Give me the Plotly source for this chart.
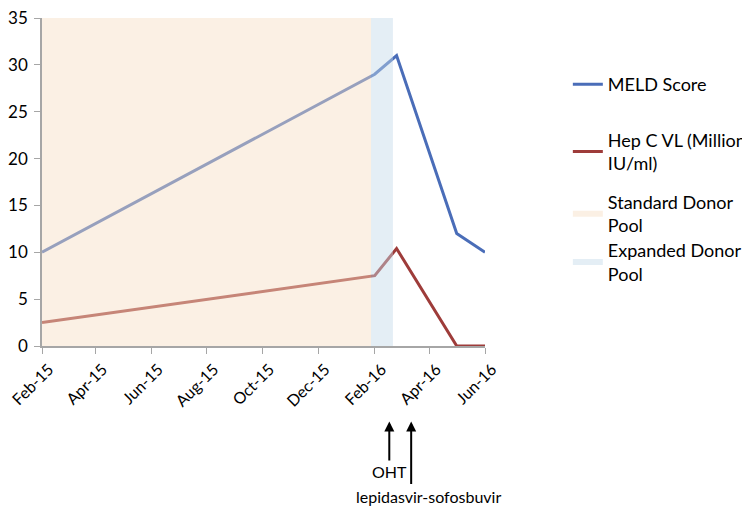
import plotly.graph_objects as go

dates = ["2015-02-01", "2016-02-01", "2016-02-25", "2016-05-01", "2016-06-01"]
meld = [10, 29, 31, 12, 10]
hepc = [2.5, 7.5, 10.4, 0, 0]

standard_pool = ["2015-02-01", "2016-01-28"]
expanded_pool = ["2016-01-28", "2016-02-21"]

events = ["2016-02-17", "2016-03-12"]
event_labels = ["OHT", "lepidasvir-sofosbuvir"]

y_max = 35
font = "Lato, Carlito, 'Open Sans', sans-serif"
fs = 18

fig = go.Figure()
fig.add_trace(go.Scatter(x=dates, y=meld, mode="lines", name="MELD Score",
                         line=dict(color="#4A6DB8", width=3), legend="legend"))
fig.add_trace(go.Scatter(x=dates, y=hepc, mode="lines", name="Hep C VL (Million<br>IU/ml)",
                         line=dict(color="#9E3C3A", width=3), legend="legend2"))
fig.add_trace(go.Scatter(x=[standard_pool[0], standard_pool[1], standard_pool[1], standard_pool[0]],
                         y=[0, 0, y_max, y_max], fill="toself", mode="none",
                         fillcolor="rgba(247,222,195,0.45)", name="Standard Donor<br>Pool",
                         legend="legend3"))
fig.add_trace(go.Scatter(x=[expanded_pool[0], expanded_pool[1], expanded_pool[1], expanded_pool[0]],
                         y=[0, 0, y_max, y_max], fill="toself", mode="none",
                         fillcolor="rgba(195,218,233,0.45)", name="Expanded Donor<br>Pool",
                         legend="legend4"))

# event arrows
fig.add_annotation(x=events[0], y=-0.23, xref="x", yref="paper", text=event_labels[0],
                   showarrow=True, arrowhead=2, arrowsize=1, arrowwidth=2, arrowcolor="black",
                   ax=0, ay=50, font=dict(size=16, color="black", family=font))
fig.add_annotation(x=events[1], y=-0.23, xref="x", yref="paper", text="",
                   showarrow=True, arrowhead=2, arrowsize=1, arrowwidth=2, arrowcolor="black",
                   ax=0, ay=64)
fig.add_annotation(x=events[1], y=-0.493, xref="x", yref="paper", text=event_labels[1],
                   showarrow=False, xshift=17, font=dict(size=16, color="black", family=font))

leg_common = dict(xanchor="left", yanchor="middle", font=dict(size=fs, color="black", family=font),
                  bgcolor="rgba(0,0,0,0)", itemclick=False, itemdoubleclick=False)
leg_x = 1.187
fig.update_layout(
    width=742, height=504,
    margin=dict(l=34, r=265, t=10, b=166, autoexpand=False),
    paper_bgcolor="white", plot_bgcolor="white",
    font=dict(family=font, size=fs, color="black"),
    hovermode=False,
    showlegend=True,
    legend=dict(x=leg_x, y=0.797, **leg_common),
    legend2=dict(x=leg_x, y=0.593, **leg_common),
    legend3=dict(x=leg_x, y=0.403, **leg_common),
    legend4=dict(x=leg_x, y=0.256, **leg_common),
    xaxis=dict(type="date", range=["2015-02-01", "2016-06-01"], tick0="2015-02-01", dtick="M2",
               tickformat="%b-%y", tickangle=-45, showgrid=False, zeroline=False, automargin=False,
               ticklabeloverflow="allow", ticklabelshift=7,
               showline=True, linecolor="#A6A6A6", linewidth=1.5, ticks="outside",
               tickcolor="#A6A6A6", ticklen=6, tickfont=dict(size=16)),
    yaxis=dict(range=[0, y_max], dtick=5, showgrid=False, zeroline=False, showline=True,
               automargin=False, ticklabelstandoff=3, ticklabeloverflow="allow",
               linecolor="#A6A6A6", linewidth=1.5, ticks="outside", tickcolor="#A6A6A6",
               ticklen=6, tickfont=dict(size=17)),
)

fig.write_html("out.html")
